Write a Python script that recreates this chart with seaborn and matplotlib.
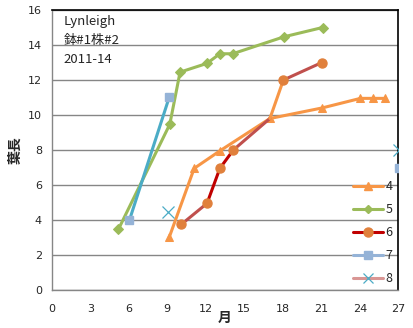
import matplotlib
matplotlib.use("Agg")
import matplotlib.pyplot as plt
from matplotlib.lines import Line2D
import seaborn as sns
import pandas as pd

# ---- data ----
s4_x = [9.15, 11.1, 13.1, 17.0, 21.05, 24.05, 25.0, 26.0]
s4_y = [3.0, 6.95, 7.95, 9.8, 10.4, 10.95, 10.95, 10.95]

s5_x = [5.2, 9.2, 10.0, 12.1, 13.1, 14.1, 18.1, 21.1]
s5_y = [3.47, 9.47, 12.45, 12.95, 13.5, 13.5, 14.47, 15.0]

s6_x = [10.1, 12.1, 13.1, 14.15, 17.0, 18.05, 21.05]
s6_y = [3.75, 4.95, 6.95, 8.0, 9.8, 12.0, 13.0]
s6_marked = [True, True, True, True, False, True, True]

s7_x = [6.05, 9.15]
s7_y = [3.98, 11.0]
s7_extra_x = [27.05]
s7_extra_y = [6.95]

s8_x = [9.05, 27.05]
s8_y = [4.45, 8.0]

series_labels = ["4", "5", "6", "7", "8"]
x_ticks = [0, 3, 6, 9, 12, 15, 18, 21, 24, 27]
y_ticks = [0, 2, 4, 6, 8, 10, 12, 14, 16]
title_lines = ["Lynleigh", "鉢#1株#2", "2011-14"]

# ---- style ----
sns.set_style("white")
plt.rcParams['font.family'] = ['Noto Sans CJK JP', 'DejaVu Sans']

C_ORANGE = "#f79646"
C_GREEN = "#9bbb59"
C_DARKRED = "#c00000"
C_BROWN = "#c0504d"
C_CIRCLE = "#e0803c"
C_TEAL = "#4bacc6"
C_STEEL = "#95b3d7"
C_PINK = "#d99694"
GRID = "#868686"

fig = plt.figure(figsize=(4.14, 3.28), dpi=100)
ax = fig.add_axes([0.1249, 0.1159, 0.962 - 0.1249, 0.9695 - 0.1159])

lw = 2.2

# series 5
sns.lineplot(x=s5_x, y=s5_y, ax=ax, sort=False, estimator=None, color=C_GREEN,
             lw=lw, marker="D", markersize=5, markeredgecolor=C_GREEN, zorder=3)
# series 7
sns.lineplot(x=s7_x, y=s7_y, ax=ax, sort=False, estimator=None, color=C_TEAL,
             lw=lw, zorder=3)
ax.plot(s7_x + s7_extra_x, s7_y + s7_extra_y, ls="none", marker="s", markersize=5.5,
        color=C_STEEL, zorder=4)
# series 8
ax.plot(s8_x, s8_y, ls="none", marker="x", markersize=8, mew=0.9, color=C_TEAL, zorder=4)
# series 4
sns.lineplot(x=s4_x, y=s4_y, ax=ax, sort=False, estimator=None, color=C_ORANGE,
             lw=lw, marker="^", markersize=6, markeredgecolor=C_ORANGE, zorder=3)
# series 6 with segment colours
seg_colors = [C_BROWN, C_DARKRED, C_DARKRED, C_BROWN, C_ORANGE, C_BROWN]
for i, c in enumerate(seg_colors):
    sns.lineplot(x=s6_x[i:i + 2], y=s6_y[i:i + 2], ax=ax, sort=False, estimator=None,
                 color=c, lw=lw, zorder=3.5)
mx = [x for x, m in zip(s6_x, s6_marked) if m]
my = [y for y, m in zip(s6_y, s6_marked) if m]
ax.plot(mx, my, ls="none", marker="o", markersize=6.5, color=C_CIRCLE, zorder=4)

# axes
ax.set_xlim(0, 27)
ax.set_ylim(0, 16)
ax.set_xticks(x_ticks)
ax.set_yticks(y_ticks)
ax.tick_params(axis="both", labelsize=8, length=4, width=0.8, color=GRID, direction="out",
               pad=3)
ax.tick_params(axis="x", pad=6)
ax.yaxis.grid(True, color=GRID, lw=1)
ax.set_axisbelow(True)
for s in ["top", "right"]:
    ax.spines[s].set_color("black")
    ax.spines[s].set_linewidth(1.2)
for s in ["left", "bottom"]:
    ax.spines[s].set_color(GRID)
    ax.spines[s].set_linewidth(1)
for t in ax.get_xticklabels() + ax.get_yticklabels():
    t.set_fontfamily(['DejaVu Sans'])

ax.set_xlabel("月", fontsize=10, fontweight="bold", labelpad=-2)
ax.set_ylabel("葉長", fontsize=10, fontweight="bold", labelpad=4)

for i, t in enumerate(title_lines):
    ax.text(0.035, 0.982 - i * 0.067, t, transform=ax.transAxes, fontsize=9.5,
            va="top", ha="left")

handles = [
    Line2D([], [], color=C_ORANGE, lw=lw, marker="^", markersize=6),
    Line2D([], [], color=C_GREEN, lw=lw, marker="D", markersize=4),
    Line2D([], [], color=C_DARKRED, lw=lw, marker="o", markersize=6.5,
           markerfacecolor=C_CIRCLE, markeredgecolor=C_CIRCLE),
    Line2D([], [], color=C_STEEL, lw=lw, marker="s", markersize=5.5),
    Line2D([], [], color=C_PINK, lw=lw, marker="x", markersize=7,
           markeredgecolor=C_TEAL, mew=0.9),
]
leg = ax.legend(handles, series_labels, loc="lower left", bbox_to_anchor=(0.855, 0.0),
                frameon=False, fontsize=9, handlelength=2.4, handletextpad=0.2,
                labelspacing=0.8, borderaxespad=0)

fig.savefig("out.png", dpi=100)
